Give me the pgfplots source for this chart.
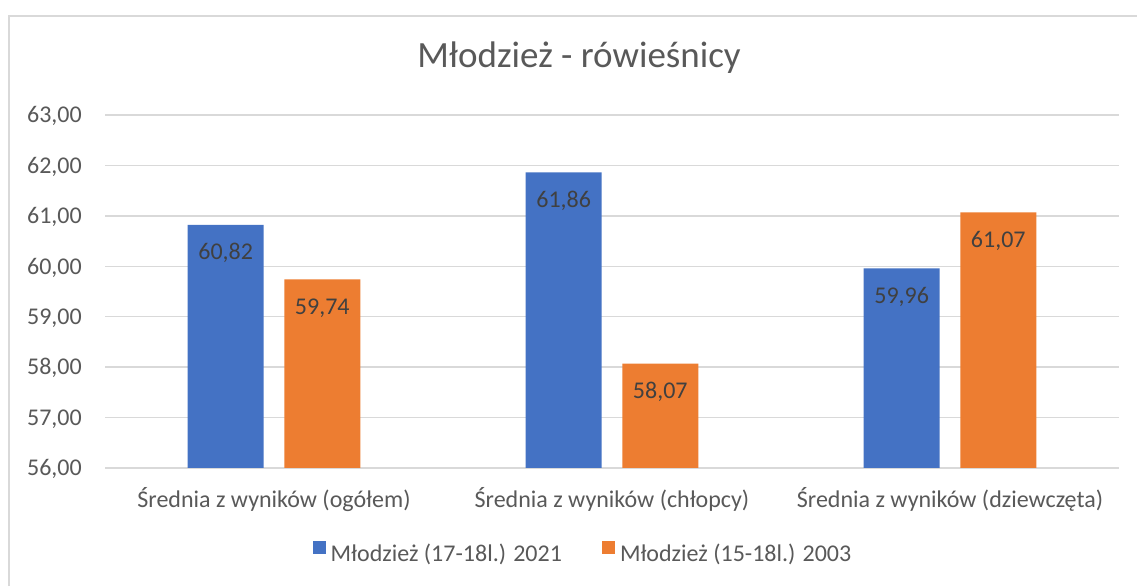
\documentclass[border=0pt]{standalone}
\usepackage{fontspec}
\setmainfont{Carlito}
\usepackage{pgfplots}
\pgfplotsset{compat=1.18}
\definecolor{cblue}{RGB}{68,114,196}
\definecolor{corange}{RGB}{237,125,49}
\definecolor{tgray}{RGB}{89,89,89}
\definecolor{dgray}{RGB}{64,64,64}
\definecolor{gridc}{RGB}{217,217,217}
\begin{document}
\begin{tikzpicture}[x=1pt,y=1pt]
\useasboundingbox (0,0) rectangle (1137,586);
\fill[white] (0,0) rectangle (1137,586);
\draw[gridc, line width=1.5pt] (9,0) -- (9,570) -- (1137,570);
\begin{axis}[
  at={(105pt,118pt)}, anchor=south west,
  scale only axis, width=1014pt, height=353pt,
  ybar, bar width=76pt,
  xmin=-0.5, xmax=2.5, ymin=56, ymax=63,
  xtick={0,1,2},
  xticklabels={Średnia z wyników (ogółem), Średnia z wyników (chłopcy), Średnia z wyników (dziewczęta)},
  ytick={56,57,...,63},
  axis x line*=bottom, axis y line*=left,
  axis line style={-},
  x axis line style={gridc, line width=1.5pt},
  y axis line style={draw=none},
  major tick length=0pt,
  ymajorgrids, grid style={gridc, line width=1.5pt},
  /pgf/number format/assume math mode=true,
  yticklabel style={/pgf/number format/.cd, fixed, zerofill, precision=2, use comma, /tikz/.cd,
    anchor=base east, inner sep=0pt, xshift=-23pt, yshift=-7.8pt,
    font=\fontsize{24}{28}\selectfont, text=tgray},
  xticklabel style={anchor=base, inner sep=0pt, yshift=-40pt,
    font=\fontsize{24}{28}\selectfont, text=tgray},
  title={Młodzież - rówieśnicy},
  title style={at={(0.4675,1.118)}, anchor=base, inner sep=0pt,
    font=\fontsize{37}{44}\selectfont, text=tgray},
  nodes near coords={\pgfmathprintnumber[fixed,zerofill,precision=2,use comma]{\pgfplotspointmeta}},
  nodes near coords style={anchor=base, inner sep=0pt, yshift=-35pt,
    font=\fontsize{24}{28}\selectfont, text=dgray},
  legend style={at={(0.4714,-0.2408)}, anchor=center, draw=none, fill=none,
    legend columns=2, font=\fontsize{24}{28}\selectfont, text=tgray,
    /tikz/every even column/.append style={column sep=38pt},
    /tikz/every odd column/.append style={column sep=3pt}},
  legend image code/.code={\fill[#1] (0pt,-0.5pt) rectangle (13pt,12.5pt);},
]
\addplot[fill=cblue, draw=none, bar shift=-48.3pt] coordinates {(0,60.82) (1,61.86) (2,59.96)};
\addlegendentry{Młodzież (17-18l.) 2021}
\addplot[fill=corange, draw=none, bar shift=48.3pt] coordinates {(0,59.74) (1,58.07) (2,61.07)};
\addlegendentry{Młodzież (15-18l.) 2003}
\end{axis}
\end{tikzpicture}
\end{document}
